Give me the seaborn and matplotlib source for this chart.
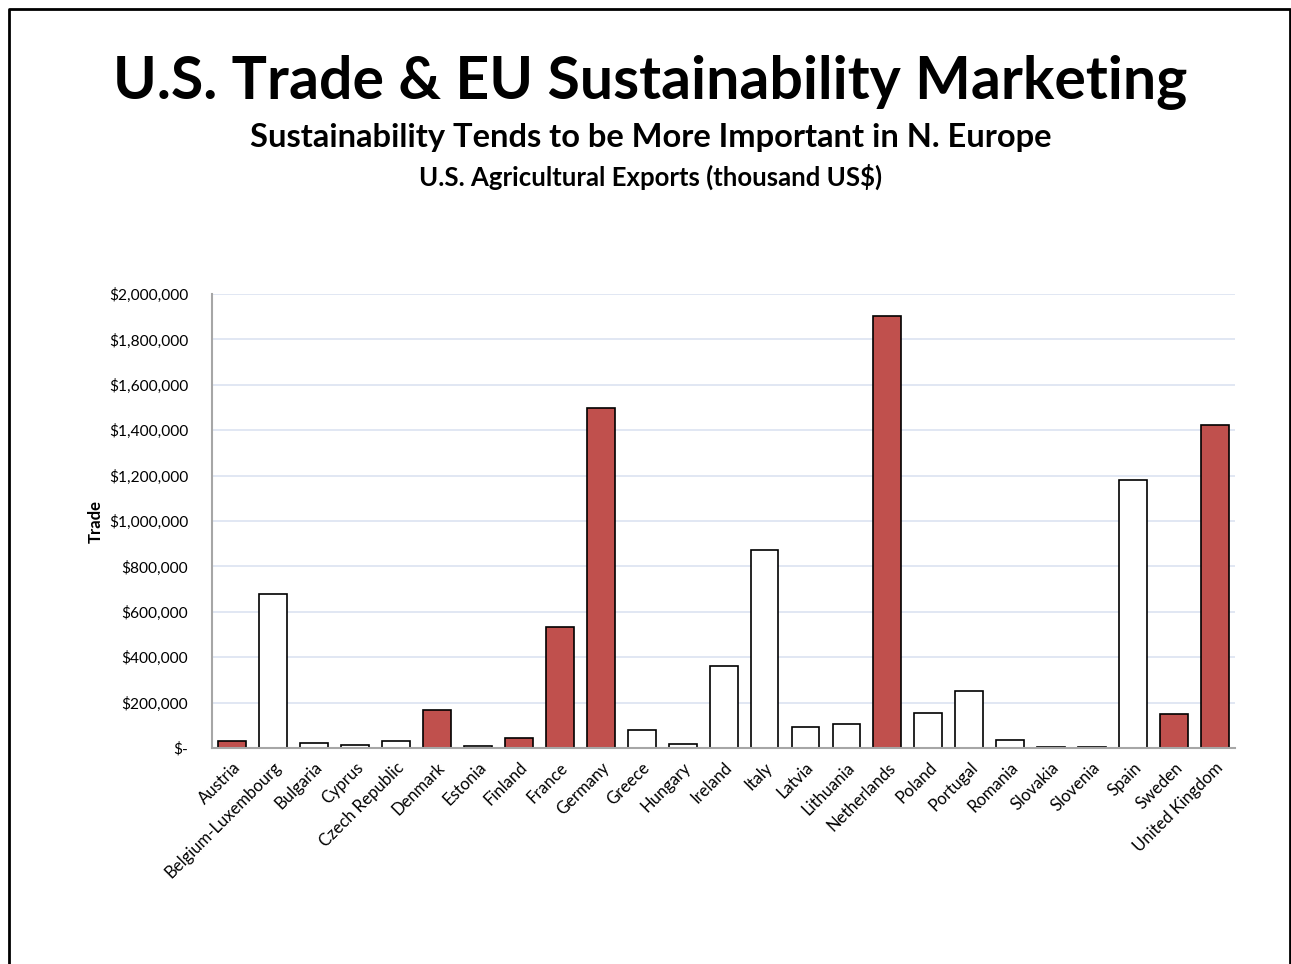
import matplotlib
matplotlib.use("Agg")
import matplotlib.pyplot as plt
import matplotlib.ticker as mticker
from matplotlib.lines import Line2D
import seaborn as sns
import pandas as pd

# Data (thousand US$)
countries = ["Austria", "Belgium-Luxembourg", "Bulgaria", "Cyprus", "Czech Republic",
             "Denmark", "Estonia", "Finland", "France", "Germany", "Greece", "Hungary",
             "Ireland", "Italy", "Latvia", "Lithuania", "Netherlands", "Poland",
             "Portugal", "Romania", "Slovakia", "Slovenia", "Spain", "Sweden",
             "United Kingdom"]
exports = [32000, 678000, 22000, 12000, 30000,
           167000, 8000, 44000, 533000, 1498000, 79000, 18000,
           361000, 872000, 92000, 106000, 1903000, 154000,
           251000, 35000, 4000, 4000, 1181000, 148000,
           1423000]
# northern Europe countries highlighted in red
northern = ["Austria", "Denmark", "Finland", "France", "Germany",
            "Netherlands", "Sweden", "United Kingdom"]

df = pd.DataFrame({"country": countries, "trade": exports})
palette = {c: ("#C0504D" if c in northern else "white") for c in countries}

sns.set_style("white")
plt.rcParams["font.family"] = ["Lato", "DejaVu Sans"]
plt.rcParams["text.color"] = "black"

fig = plt.figure(figsize=(12.91, 9.64), dpi=100)
ax = fig.add_axes([0.164, 0.224, 0.793, 0.471])

sns.barplot(data=df, x="country", y="trade", hue="country", palette=palette,
            saturation=1, edgecolor="black", linewidth=1.2, width=0.68,
            legend=False, ax=ax)

ax.set_ylim(0, 2000000)
ax.set_xlim(-0.5, len(countries) - 0.5)
ax.yaxis.set_major_locator(mticker.MultipleLocator(200000))
ax.yaxis.set_major_formatter(mticker.FuncFormatter(
    lambda v, p: "$-" if v == 0 else f"${v:,.0f}"))
ax.grid(axis="y", color="#DCE3F1", linewidth=1.2)
ax.set_axisbelow(True)
for s in ["top", "right"]:
    ax.spines[s].set_visible(False)
for s in ["left", "bottom"]:
    ax.spines[s].set_color("#A6A6A6")
    ax.spines[s].set_linewidth(1.5)
ax.tick_params(axis="both", length=0, colors="black")
ax.tick_params(axis="y", pad=17, labelsize=11.2)
ax.tick_params(axis="x", pad=8, labelsize=12)
plt.setp(ax.get_xticklabels(), rotation=45, ha="right", rotation_mode="anchor")
ax.set_xlabel("")
ax.set_ylabel("Trade", fontsize=12, fontweight="bold", labelpad=4, color="black")

# titles
fig.text(0.504, 0.914, "U.S. Trade & EU Sustainability Marketing",
         ha="center", va="center", fontsize=42.5, fontweight="bold")
fig.text(0.504, 0.857, "Sustainability Tends to be More Important in N. Europe",
         ha="center", va="center", fontsize=23.5, fontweight="bold")
fig.text(0.504, 0.817, "U.S. Agricultural Exports (thousand US$)",
         ha="center", va="center", fontsize=18.5, fontweight="bold")

# slide frame
x0, x1, yt = 8.5 / 1291, 1289.5 / 1291, 1 - 8.5 / 964
fig.add_artist(Line2D([x0, x0, x1, x1], [0, yt, yt, 0], color="black", linewidth=2))

fig.savefig("out.png", dpi=100)
